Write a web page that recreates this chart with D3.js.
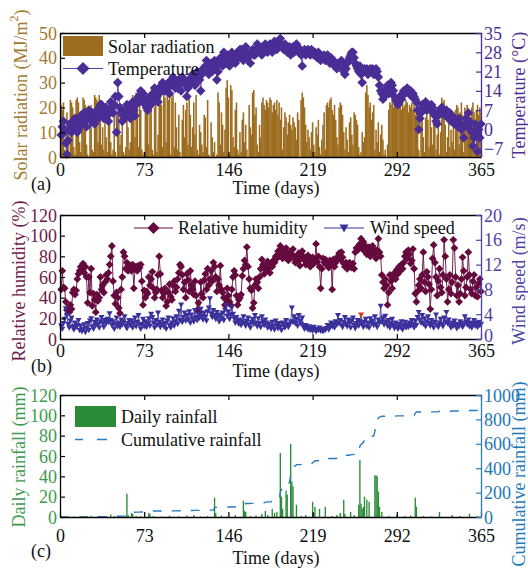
<!DOCTYPE html>
<html><head><meta charset="utf-8">
<script src="https://cdn.jsdelivr.net/npm/d3@7"></script>
<style>
body{margin:0;background:#fff;}
svg{display:block;font-family:"Liberation Serif","Times New Roman",serif;}
</style>
</head><body>
<svg id="chart" width="528" height="569"></svg>
<script>
// ---------------- DATA ----------------
const xTicks = [0, 73, 146, 219, 292, 365];
const solarTicks = [0, 10, 20, 30, 40, 50];
const tempTicks = [-7, 0, 7, 14, 21, 28, 35];
const rhTicks = [0, 20, 40, 60, 80, 100, 120];
const windTicks = [0, 4, 8, 12, 16, 20];
const rainTicks = [0, 20, 40, 60, 80, 100, 120];
const cumTicks = [0, 200, 400, 600, 800, 1000];

// Solar radiation (MJ/m2), day 1..365
const solarRadiation = [
21,19,22,3,1,18,15,2,23,22,
20,4,1,23,24,22,6,2,19,24,
23,21,5,1,0,14,21,3,2,25,
24,23,6,25,22,5,12,3,17,8,
2,14,19,6,1,3,20,2,0,18,
21,5,9,15,2,1,4,19,12,3,
6,23,25,24,8,26,20,4,21,19,
3,1,2,24,26,22,5,25,27,3,
1,20,24,2,9,25,26,21,4,27,
24,6,28,23,26,1,24,25,4,22,
12,3,17,2,0,15,21,8,19,22,
5,24,17,4,12,22,9,25,3,1,
13,10,5,2,17,16,4,23,1,0,
14,8,2,6,0,1,26,22,5,18,
13,2,11,28,31,24,1,29,27,8,
4,19,22,3,1,10,2,15,18,6,
13,3,0,21,12,9,26,27,17,20,
5,2,13,8,22,24,21,19,23,22,
20,24,23,18,21,22,19,23,17,22,
15,20,3,12,18,16,9,14,17,13,
11,16,14,12,7,18,15,0,23,26,
24,20,13,6,11,8,3,10,14,5,
2,12,9,15,4,1,7,13,18,3,
21,22,20,23,24,19,17,21,15,8,
5,20,22,21,17,10,3,12,7,2,
14,16,9,5,18,17,15,13,4,1,
2,10,6,8,26,29,25,20,22,15,
18,21,3,11,6,14,2,9,13,7,
1,3,0,5,19,22,21,23,20,22,
21,20,22,23,21,19,22,20,21,23,
22,18,21,20,22,19,23,17,21,20,
3,0,14,19,8,2,16,20,15,4,
18,12,5,17,20,3,9,14,1,10,
24,22,23,13,2,8,15,4,11,6,
16,3,19,21,20,5,18,22,17,2,
20,14,21,19,9,16,20,22,18,3,
19,21,17,20,18];

// Temperature (°C), day 1..365
const temperature = [
-2,1,3,-1,-5,-9,-4,0,2,-1,
3,1,4,2,-1,0,3,5,2,4,
6,3,1,4,7,5,3,6,4,2,
5,7,4,6,9,9,6,4,7,8,
5,3,7,10,8,6,9,12,-1,17,
12,8,6,3,5,4,7,9,5,6,
4,8,10,7,5,9,11,12,10,14,
13,13,11,9,8,7,10,12,9,11,
13,15,14,12,10,13,15,16,17,15,
14,16,15,17,13,16,18,19,17,15,
16,15,18,17,14,19,18,17,16,12,
15,18,17,19,20,18,16,19,21,18,
18,14,20,22,21,23,25,22,20,23,
24,21,23,25,22,18,21,24,26,25,
23,28,26,24,27,25,23,26,28,27,
25,24,27,28,26,29,29,27,25,28,
30,28,26,27,24,28,29,27,27,29,
31,30,28,29,27,30,29,31,30,28,
29,31,30,28,31,32,30,29,31,30,
33,31,30,29,31,30,28,29,30,27,
29,30,28,29,31,30,28,29,27,23,
28,29,27,28,29,28,27,29,28,27,
28,27,26,28,27,25,26,26,27,25,
26,27,25,24,26,25,25,23,24,22,
24,23,23,25,24,21,20,22,24,25,
26,27,28,28,26,24,23,22,21,23,
20,17,21,22,21,22,20,21,22,21,
22,20,21,22,21,19,16,14,13,11,
12,14,15,16,13,15,17,16,14,12,
11,10,9,10,12,11,13,14,13,14,
15,14,13,14,12,13,12,11,10,7,
0,4,6,9,8,8,10,7,9,8,
7,9,8,6,5,3,2,5,7,6,
8,7,6,5,7,5,4,6,3,5,
4,2,3,3,1,4,2,0,1,-3,
2,4,1,6,3,0,-1,-6,-3,2,
-1,-8,0,-3,2];

// Relative humidity (%), day 1..365
const relativeHumidity = [
48,66,50,49,36,28,30,26,33,29,
45,48,43,47,58,63,66,70,68,73,
64,70,60,35,60,45,68,32,44,38,
26,43,37,40,60,48,52,45,55,62,
58,64,72,80,90,56,42,34,45,40,
30,25,48,60,84,80,68,74,66,72,
70,66,72,49,68,70,66,71,69,72,
56,33,47,40,46,44,60,52,58,65,
49,40,45,48,62,80,63,47,40,44,
49,32,36,45,53,41,38,52,56,46,
50,58,64,72,70,62,48,55,40,63,
57,46,66,52,48,43,56,42,28,35,
26,55,44,40,57,63,48,68,52,58,
66,56,74,70,60,46,58,52,71,48,
45,40,33,38,49,42,36,33,48,60,
66,62,42,33,38,40,43,61,68,76,
72,89,70,58,49,47,30,35,52,58,
55,49,60,68,77,72,63,70,66,75,
68,64,73,70,76,74,80,78,85,82,
90,84,78,86,80,88,81,76,84,79,
82,87,78,74,80,76,83,71,78,85,
80,76,72,78,81,74,70,76,79,73,
77,92,75,80,70,49,68,78,74,77,
72,75,69,76,73,48,77,70,74,78,
80,83,77,84,79,73,70,74,68,72,
74,70,69,73,68,84,88,86,90,92,
97,88,94,85,90,82,86,89,80,84,
90,87,82,78,86,97,84,80,62,55,
49,58,52,33,45,62,56,49,60,64,
58,67,63,70,66,72,68,74,80,84,
78,86,82,73,76,87,68,44,36,46,
52,58,49,62,84,55,46,65,60,53,
29,48,78,91,74,60,42,56,68,50,
45,62,96,80,58,36,48,62,44,55,
96,88,60,42,52,36,44,58,79,66,
42,50,60,84,62,48,44,56,62,42,
50,41,54,58,46];

// Wind speed (m/s), day 1..365
const windSpeed = [
2.1,1.6,2.5,3.2,4.9,3.8,2.4,1.8,2.9,3.4,
2.0,1.5,2.6,1.9,2.2,3.0,1.4,2.1,1.2,1.6,
2.3,1.1,1.8,2.5,1.4,2.9,3.3,2.0,1.6,2.7,
2.2,3.1,2.4,1.8,2.8,3.5,2.6,1.9,3.0,2.5,
3.2,2.7,4.1,3.0,2.2,2.8,1.6,2.4,3.4,2.0,
2.6,1.9,3.1,2.3,2.8,3.6,2.1,1.7,2.5,3.0,
2.2,2.9,1.8,2.6,3.4,2.0,2.7,3.8,2.3,1.6,
2.4,3.2,2.0,2.8,1.9,2.5,3.3,2.1,4.0,3.5,
2.6,1.8,3.0,2.2,4.2,2.7,1.9,2.4,3.1,2.0,
2.5,1.6,2.9,3.4,2.2,1.8,2.6,3.3,2.1,2.8,
3.6,2.4,4.5,3.0,5.5,2.7,3.5,4.2,2.9,3.8,
3.1,4.4,2.6,3.9,3.3,2.8,4.6,3.5,3.0,4.0,
3.4,4.8,3.7,3.1,4.2,3.6,2.9,4.4,5.0,6.5,
4.1,3.5,4.6,3.8,3.2,4.3,3.6,2.8,3.9,3.3,
4.2,3.0,4.7,5.4,3.7,4.4,3.2,3.9,5.1,4.0,
3.3,2.6,3.5,2.9,2.4,3.1,2.2,2.8,3.6,2.5,
2.1,2.9,3.4,2.3,1.8,2.7,3.2,2.4,3.8,2.6,
2.0,3.3,2.5,1.9,3.6,2.8,2.2,3.1,2.6,1.8,
2.4,2.0,1.6,2.7,2.1,1.5,2.9,2.3,1.7,2.5,
2.0,1.4,2.6,2.2,1.8,3.0,2.4,1.9,2.3,2.8,
5.0,2.7,3.6,2.5,3.2,2.1,3.8,2.9,2.4,3.4,
2.0,1.6,2.2,1.8,1.5,2.0,1.4,1.7,1.3,1.9,
1.5,1.2,1.6,1.4,1.8,1.3,1.5,1.2,1.6,1.4,
1.7,2.2,1.5,1.9,2.6,2.0,2.4,1.8,2.8,2.3,
3.8,2.5,3.0,2.2,1.9,2.7,3.5,2.4,2.0,3.1,
2.6,1.8,2.9,3.4,2.2,1.7,2.5,3.0,2.1,2.8,
3.9,2.4,1.9,2.7,3.2,2.0,2.6,1.8,3.3,2.5,
2.9,2.2,3.6,2.4,1.9,3.1,2.6,5.3,2.8,3.4,
2.3,3.7,2.7,2.1,3.0,1.8,2.5,3.2,2.2,1.7,
2.6,2.0,1.6,2.4,1.9,2.8,1.5,2.2,2.7,1.8,
2.3,1.9,2.6,2.1,3.0,2.4,1.8,2.9,2.2,3.5,
4.3,3.1,2.6,3.8,2.4,3.3,2.0,2.8,3.6,2.5,
2.1,3.0,2.4,1.8,2.7,3.9,2.2,1.9,2.6,3.2,
2.4,2.0,3.4,2.7,4.3,2.5,3.1,2.2,1.8,2.6,
2.1,2.9,2.4,1.7,2.3,2.0,2.8,2.5,1.9,2.2,
3.6,2.7,2.3,3.1,2.0,2.6,1.8,2.4,3.0,2.1,
2.5,1.9,2.7,2.2,2.4];
const windHighlightDays = [261];

// Daily rainfall (mm): rainy days and their amounts (all other days 0)
const rainDays = [
12,20,27,33,44,47,52,58,59,62,
63,66,70,77,78,81,88,95,103,110,
116,122,128,134,135,140,146,152,159,160,
161,165,170,175,178,180,184,186,188,191,
192,193,196,197,200,201,202,205,209,213,
219,220,221,225,230,236,240,243,246,247,
252,255,259,260,261,262,263,264,266,268,
273,274,275,276,277,279,285,292,299,304,
308,309,315,322,329,340,347,355,362];
const rainAmounts = [
0.5,0.8,1.2,0.5,2.5,1,0.6,23,2,4,
3,1,0.8,4,3,1,0.5,1.2,0.6,1.5,
2,0.5,1,19,4,1.5,0.8,2,16,6,
5,1,1.5,3,6,2,8,4,5,63,
20,8,26,22,72,35,30,12,1,2,
15,4,10,8,10,1,2,4,17,3,
5,2,12,56,13,8,10,20,17,15,
41,41,40,25,10,5,1,2,1,1.5,
19,10,1,0.5,5,2,1,3,1];

// ---------------- CHART ----------------
const C = {
  solar: "#9c6c1f", solarTxt: "#a17a2f",
  temp: "#4b2d96", tempLine: "#5b40a8",
  rh: "#650a3d", rhTxt: "#6e1a48",
  wind: "#3a309c", windTxt: "#4a44a6",
  rain: "#2b8c38", rainTxt: "#3d9a4a",
  cum: "#2a7cc0", cumTxt: "#2278b8"
};
const FS = 18;
const svg = d3.select("#chart");
const X0 = 60, X1 = 481;
const x = d3.scaleLinear().domain([0, 365]).range([X0, X1]);
const days = d3.range(1, 366);
const bw = x(1) - x(0);

const dailyRainfall = days.map(() => 0);
rainDays.forEach((d, i) => { dailyRainfall[d - 1] = rainAmounts[i]; });
const cumulativeRainfall = Array.from(d3.cumsum(dailyRainfall));

function styleAxis(g, color, lineColor) {
  g.attr("font-family", null).attr("font-size", FS);
  g.select(".domain").attr("stroke", lineColor).attr("stroke-width", 1.3);
  g.selectAll(".tick line").attr("stroke", lineColor).attr("stroke-width", 1.2);
  g.selectAll(".tick text").attr("fill", color);
}

function axes(p) {
  const gb = svg.append("g").attr("transform", `translate(0,${p.bottom})`)
    .call(d3.axisBottom(x).tickValues(xTicks).tickSize(-5).tickSizeOuter(0));
  styleAxis(gb, "#111", "#000");
  gb.selectAll(".tick text").attr("y", p.tickBase - p.bottom).attr("dy", null);

  const gt = svg.append("g").attr("transform", `translate(0,${p.top})`)
    .call(d3.axisTop(x).tickValues(xTicks).tickSize(-5).tickSizeOuter(0).tickFormat(""));
  styleAxis(gt, "#111", "#000");

  const gl = svg.append("g").attr("transform", `translate(${X0},0)`)
    .call(d3.axisLeft(p.yL).tickValues(p.lt).tickSize(-5).tickSizeOuter(0).tickPadding(3).tickFormat(d3.format("d")));
  styleAxis(gl, p.lc, "#000");
  gl.selectAll(".tick text").attr("dy", "0.34em");

  const gr = svg.append("g").attr("transform", `translate(${X1},0)`)
    .call(d3.axisRight(p.yR).tickValues(p.rt).tickSize(-5).tickSizeOuter(0).tickPadding(3).tickFormat(d3.format("d")));
  styleAxis(gr, p.rc, p.rline);
  gr.selectAll(".tick text").attr("dy", "0.34em");
  if (p.rightZeroDy) gr.selectAll(".tick text").filter(d => d === 0).attr("dy", p.rightZeroDy);

  svg.append("text").attr("x", 276).attr("y", p.timeBase).attr("text-anchor", "middle")
    .attr("font-size", FS).attr("fill", "#111").text("Time (days)");
  svg.append("text").attr("x", 31).attr("y", p.tagBase)
    .attr("font-size", FS).attr("fill", "#111").text(p.tag);
}

function vTitle(xc, yc, color, parts) {
  const t = svg.append("text").attr("transform", `translate(${xc},${yc}) rotate(-90)`)
    .attr("text-anchor", "middle").attr("dominant-baseline", "central")
    .attr("font-size", FS).attr("fill", color);
  parts.forEach(pt => {
    const s = t.append("tspan").text(pt.t);
    if (pt.sup) s.attr("font-size", 12).attr("dy", -7);
    if (pt.down) s.attr("dy", 7);
  });
}

const diamond = r => `M0,${-r}L${r},0L0,${r}L${-r},0Z`;
const tri = r => `M${-r},${-r * 0.8}L${r},${-r * 0.8}L0,${r}Z`;

// ---------- Panel (a) ----------
{
  const top = 33, bottom = 157;
  const yL = d3.scaleLinear().domain([0, 50]).range([bottom, top]);
  const yR = d3.scaleLinear().domain([-10, 35]).range([bottom, top]);
  svg.append("g").selectAll("rect").data(days).join("rect")
    .attr("x", d => x(d) - bw / 2 - 0.2).attr("width", bw + 0.4)
    .attr("y", d => yL(solarRadiation[d - 1]))
    .attr("height", d => bottom - yL(solarRadiation[d - 1]))
    .attr("fill", C.solar);
  const line = d3.line().x(d => x(d)).y(d => yR(temperature[d - 1]));
  svg.append("path").datum(days).attr("d", line).attr("fill", "none")
    .attr("stroke", C.tempLine).attr("stroke-width", 0.9);
  svg.append("g").selectAll("path").data(days).join("path")
    .attr("transform", d => `translate(${x(d)},${yR(temperature[d - 1])})`)
    .attr("d", diamond(4.8)).attr("fill", C.temp);
  axes({top, bottom, yL, yR, lt: solarTicks, rt: tempTicks, lc: C.solarTxt, rc: C.temp, rline: C.temp,
        tickBase: 176, timeBase: 194, tag: "(a)", tagBase: 190});
  vTitle(21, 95, C.solarTxt, [{t: "Solar radiation (MJ/m"}, {t: "2", sup: true}, {t: ")", down: true}]);
  vTitle(519, 95, C.temp, [{t: "Temperature (°C)"}]);
  // legend
  svg.append("rect").attr("x", 63).attr("y", 36).attr("width", 40).attr("height", 20).attr("fill", C.solar);
  svg.append("text").attr("x", 108).attr("y", 53).attr("font-size", FS).attr("fill", "#111").text("Solar radiation");
  svg.append("line").attr("x1", 63).attr("x2", 103).attr("y1", 68.5).attr("y2", 68.5)
    .attr("stroke", C.tempLine).attr("stroke-width", 1);
  svg.append("path").attr("transform", "translate(83,68.5)").attr("d", diamond(6.5)).attr("fill", C.temp);
  svg.append("text").attr("x", 108).attr("y", 75).attr("font-size", FS).attr("fill", "#111").text("Temperature");
}

// ---------- Panel (b) ----------
{
  const top = 215, bottom = 339;
  const yL = d3.scaleLinear().domain([0, 120]).range([bottom, top]);
  const yR = d3.scaleLinear().domain([0, 20]).range([bottom, top]);
  const lineRH = d3.line().x(d => x(d)).y(d => yL(relativeHumidity[d - 1]));
  svg.append("path").datum(days).attr("d", lineRH).attr("fill", "none")
    .attr("stroke", C.rh).attr("stroke-width", 0.9);
  svg.append("g").selectAll("path").data(days).join("path")
    .attr("transform", d => `translate(${x(d)},${yL(relativeHumidity[d - 1])})`)
    .attr("d", diamond(3.9)).attr("fill", C.rh);
  const lineW = d3.line().x(d => x(d)).y(d => yR(windSpeed[d - 1]));
  svg.append("path").datum(days).attr("d", lineW).attr("fill", "none")
    .attr("stroke", C.wind).attr("stroke-width", 0.8);
  svg.append("g").selectAll("path").data(days).join("path")
    .attr("transform", d => `translate(${x(d)},${yR(windSpeed[d - 1])})`)
    .attr("d", tri(3)).attr("fill", d => windHighlightDays.includes(d) ? "#e0301e" : C.wind);
  axes({top, bottom, yL, yR, lt: rhTicks, rt: windTicks, lc: C.rhTxt, rc: C.windTxt, rline: C.windTxt,
        tickBase: 357, timeBase: 377, tag: "(b)", tagBase: 372, rightZeroDy: "0.12em"});
  vTitle(19, 281, C.rhTxt, [{t: "Relative humidity (%)"}]);
  vTitle(519, 281, C.windTxt, [{t: "Wind speed (m/s)"}]);
  // legend
  svg.append("line").attr("x1", 134).attr("x2", 173).attr("y1", 228).attr("y2", 228)
    .attr("stroke", C.rh).attr("stroke-width", 1);
  svg.append("path").attr("transform", "translate(153.5,228)").attr("d", diamond(6)).attr("fill", C.rh);
  svg.append("text").attr("x", 178).attr("y", 234).attr("font-size", FS).attr("fill", "#111").text("Relative humidity");
  svg.append("line").attr("x1", 324).attr("x2", 364).attr("y1", 228).attr("y2", 228)
    .attr("stroke", C.wind).attr("stroke-width", 1);
  svg.append("path").attr("transform", "translate(344,228)").attr("d", tri(4.5)).attr("fill", C.wind);
  svg.append("text").attr("x", 370).attr("y", 234).attr("font-size", FS).attr("fill", "#111").text("Wind speed");
}

// ---------- Panel (c) ----------
{
  const top = 395, bottom = 517;
  const yL = d3.scaleLinear().domain([0, 120]).range([bottom, top]);
  const yR = d3.scaleLinear().domain([0, 1000]).range([bottom, top]);
  svg.append("g").selectAll("rect").data(days).join("rect")
    .attr("x", d => x(d) - bw / 2 - 0.1).attr("width", bw + 0.2)
    .attr("y", d => yL(dailyRainfall[d - 1]))
    .attr("height", d => bottom - yL(dailyRainfall[d - 1]))
    .attr("fill", C.rain);
  const cumLine = d3.line().x(d => x(d)).y(d => yR(d === 0 ? 0 : cumulativeRainfall[d - 1]));
  svg.append("path").datum([0, ...days]).attr("d", cumLine).attr("fill", "none")
    .attr("stroke", C.cum).attr("stroke-width", 1.4).attr("stroke-dasharray", "9,10");
  axes({top, bottom, yL, yR, lt: rainTicks, rt: cumTicks, lc: C.rainTxt, rc: C.cumTxt, rline: C.cum,
        tickBase: 542, timeBase: 564, tag: "(c)", tagBase: 557});
  vTitle(19, 457, C.rainTxt, [{t: "Daily rainfall (mm)"}]);
  vTitle(519, 474, C.cumTxt, [{t: "Cumulative rainfall (mm)"}]);
  // legend
  svg.append("rect").attr("x", 75).attr("y", 406).attr("width", 41).attr("height", 21).attr("fill", C.rain);
  svg.append("text").attr("x", 121).attr("y", 423).attr("font-size", FS).attr("fill", "#111").text("Daily rainfall");
  svg.append("line").attr("x1", 75).attr("x2", 108).attr("y1", 439.5).attr("y2", 439.5)
    .attr("stroke", C.cum).attr("stroke-width", 1.4).attr("stroke-dasharray", "8,14,10,20");
  svg.append("text").attr("x", 121).attr("y", 446).attr("font-size", FS).attr("fill", "#111").text("Cumulative rainfall");
}
</script>
</body></html>
